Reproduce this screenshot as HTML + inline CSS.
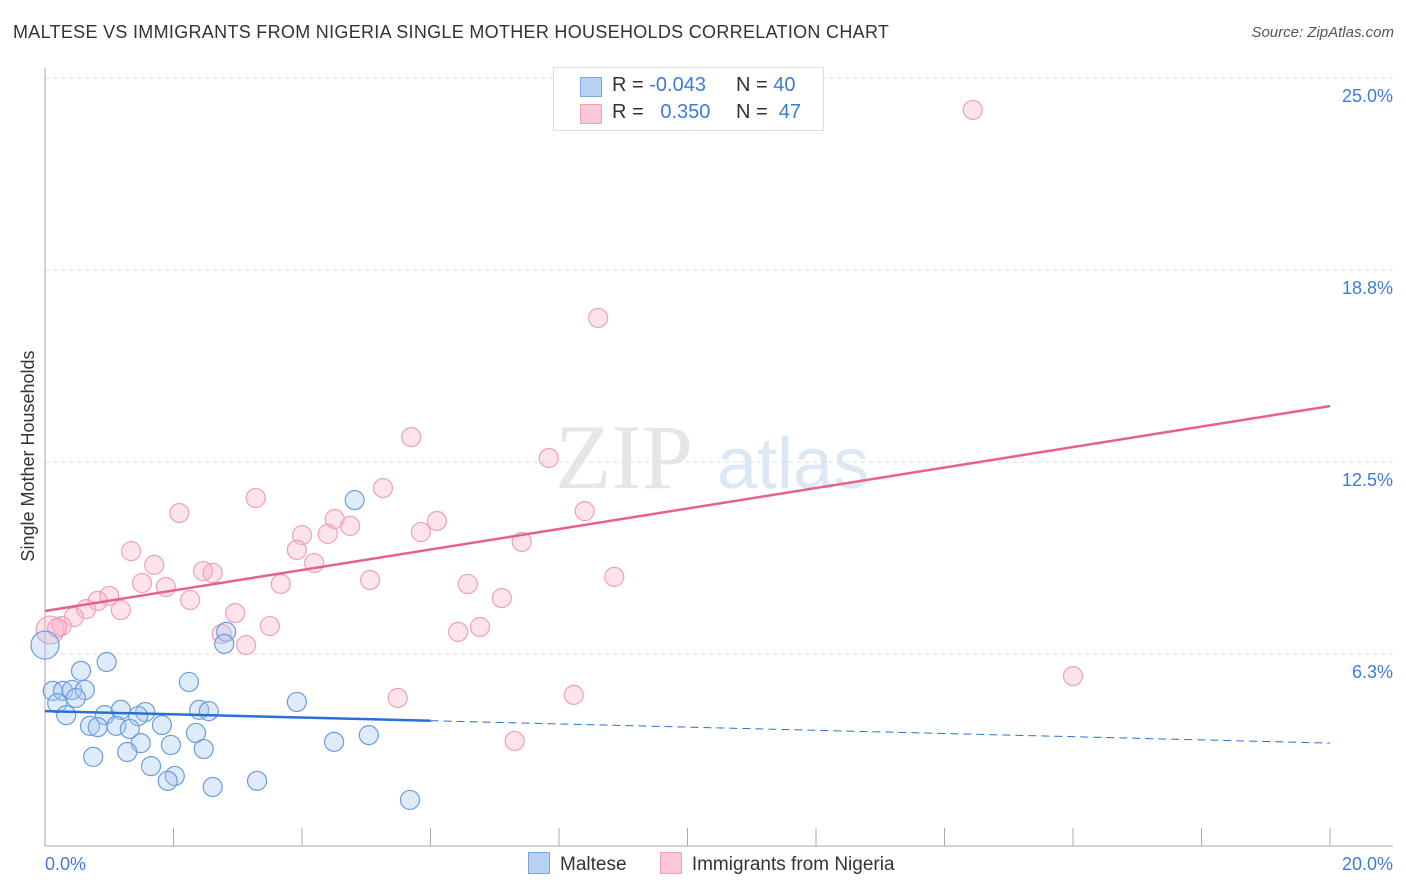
<!DOCTYPE html>
<html><head><meta charset="utf-8"><style>
body{margin:0;background:#fff;font-family:"Liberation Sans",sans-serif}
#wrap{position:relative;width:1406px;height:892px;overflow:hidden}
.t{position:absolute;white-space:nowrap}
</style></head><body>
<div id="wrap">
<div class="t" style="left:13px;top:22px;font-size:18px;color:#333;letter-spacing:0.3px">MALTESE VS IMMIGRANTS FROM NIGERIA SINGLE MOTHER HOUSEHOLDS CORRELATION CHART</div>
<div class="t" style="right:12px;top:24px;font-size:15px;color:#555;font-style:italic">Source: ZipAtlas.com</div>
<svg id="svg" width="1406" height="892" style="position:absolute;left:0;top:0"></svg>
</div>
<script>
const malteseX=[0,4.82,2.82,2.79,0.96,0.56,2.24,0.12,0.28,0.42,0.62,0.48,0.19,3.92,0.33,0.93,1.18,1.56,1.45,2.40,2.55,0.70,1.11,1.82,0.82,1.32,2.35,5.04,1.49,1.96,4.50,2.47,0.75,1.28,1.65,2.02,1.91,2.61,3.30,5.68];
const malteseY=[6.54,11.26,6.97,6.58,5.99,5.70,5.34,5.05,5.05,5.08,5.08,4.82,4.65,4.69,4.26,4.26,4.43,4.36,4.23,4.43,4.39,3.91,3.91,3.94,3.87,3.81,3.68,3.61,3.35,3.29,3.39,3.16,2.90,3.06,2.60,2.28,2.12,1.92,2.12,1.50];
const nigeriaX=[14.44,8.61,5.70,7.84,5.26,3.28,2.09,8.40,4.51,6.10,4.75,5.85,4.00,4.40,7.42,1.34,3.92,4.19,1.70,2.46,2.61,5.06,6.58,1.51,1.88,3.67,8.86,1.00,0.82,2.26,7.11,0.64,1.18,2.96,0.45,0.26,3.50,6.77,6.43,2.75,3.13,0.08,5.49,8.23,16.00,7.31,0.19];
const nigeriaY=[23.96,17.19,13.31,12.63,11.65,11.33,10.84,10.90,10.64,10.58,10.42,10.22,10.12,10.16,9.90,9.60,9.64,9.21,9.15,8.95,8.89,8.66,8.53,8.56,8.43,8.53,8.76,8.14,7.98,8.01,8.07,7.71,7.68,7.58,7.45,7.16,7.16,7.13,6.97,6.90,6.54,7.03,4.82,4.92,5.53,3.42,7.10];
const yTicks=[6.25,12.5,18.75,25];
const yTickLabels=["6.3%","12.5%","18.8%","25.0%"];
const xTicks=[0,2,4,6,8,10,12,14,16,18,20];
const malteseTrend=[4.39,3.35];
const nigeriaTrend=[7.65,14.32];

const X=v=>45+v*64.25, Y=v=>846-v*30.72;
const svg=document.getElementById('svg');const NS='http://www.w3.org/2000/svg';
function mk(tag,a,parent){const e=document.createElementNS(NS,tag);for(const k in a)e.setAttribute(k,a[k]);(parent||svg).appendChild(e);return e;}
let w=mk('text',{x:555,y:488,'font-size':92,'font-family':'Liberation Serif,serif',fill:'#e6e6e6'});w.textContent='ZIP';


let w2=mk('text',{x:717,y:488,'font-size':72,'font-family':'Liberation Sans,sans-serif',fill:'#dce8f6'});w2.textContent='atlas';


yTicks.forEach((v,i)=>{
 const g=mk('line',{x1:45,x2:1393,y1:Y(v),y2:Y(v),stroke:'#ddd','stroke-dasharray':'4,4'});
 
 
 const t=mk('text',{x:1393,y:Y(v)+24,'text-anchor':'end','font-size':18,fill:'#3f7bd6'});t.textContent=yTickLabels[i];
 
 
});
const ax=mk('line',{x1:45,x2:1393,y1:846,y2:846,stroke:'#aaa'});


const ay=mk('line',{x1:45,x2:45,y1:68,y2:846,stroke:'#aaa'});


xTicks.forEach(v=>{const l=mk('line',{x1:X(v),x2:X(v),y1:828,y2:846,stroke:'#aaa'});
 
 });
[[0,'0.0%','start',45],[20,'20.0%','end',1393]].forEach(a=>{const t=mk('text',{x:a[3],y:870,'text-anchor':a[2],'font-size':18,fill:'#3f7bd6'});t.textContent=a[1];
 
 });
const yt=mk('text',{x:0,y:0,transform:'translate(34,456) rotate(-90)','text-anchor':'middle','font-size':18,fill:'#333'});yt.textContent='Single Mother Households';


function pts(xs,ys,fill,stroke,name){xs.forEach((x,i)=>{const r=(x<0.1)?14:9.5;
 const c=mk('circle',{cx:X(x),cy:Y(ys[i]),r:r,fill:fill,stroke:stroke,'stroke-width':1.2});
 
 });}
pts(nigeriaX,nigeriaY,'rgba(248,176,200,0.35)','#f0a0b8','nigeria-point');
pts(malteseX,malteseY,'rgba(165,198,242,0.35)','#6a9de0','maltese-point');
const tn=mk('line',{x1:X(0),y1:Y(nigeriaTrend[0]),x2:X(20),y2:Y(nigeriaTrend[1]),stroke:'#e8608a','stroke-width':2.5});


const m6=malteseTrend[0]+(malteseTrend[1]-malteseTrend[0])*0.3;
const tm=mk('line',{x1:X(0),y1:Y(malteseTrend[0]),x2:X(6),y2:Y(m6),stroke:'#2a6fd4','stroke-width':2.5});


const tm2=mk('line',{x1:X(6),y1:Y(m6),x2:X(20),y2:Y(malteseTrend[1]),stroke:'#2a6fd4','stroke-width':1,'stroke-dasharray':'8,5'});


</script>
<div style="position:absolute;left:553px;top:67px;width:269px;height:62px;border:1px solid #ddd;background:#fff;font-size:20px;">
 <div style="position:absolute;left:26px;top:9px;width:20px;height:18px;background:#b8d2f4;border:1px solid #7aa6e0"></div>
 <div class="t" style="left:58px;top:6px;color:#333">R = <span style="color:#3f7bd6">-0.043</span></div>
 <div class="t" style="left:182px;top:6px;color:#333">N = <span style="color:#3f7bd6">40</span></div>
 <div style="position:absolute;left:26px;top:36px;width:20px;height:18px;background:#fbc8d8;border:1px solid #f0a0b8"></div>
 <div class="t" style="left:58px;top:33px;color:#333">R = &nbsp;&nbsp;<span style="color:#3f7bd6">0.350</span></div>
 <div class="t" style="left:182px;top:33px;color:#333">N = &nbsp;<span style="color:#3f7bd6">47</span></div>
</div>
<div style="position:absolute;top:852px;left:528px;font-size:19px;color:#333;white-space:nowrap">
 <span><span style="display:inline-block;width:20px;height:20px;background:#b8d2f4;border:1px solid #7aa6e0;vertical-align:-4px;margin-right:10px"></span>Maltese</span>
 <span style="margin-left:28px"><span style="display:inline-block;width:20px;height:20px;background:#fbc8d8;border:1px solid #f0a0b8;vertical-align:-4px;margin-right:10px"></span>Immigrants from Nigeria</span>
</div>
</body></html>
